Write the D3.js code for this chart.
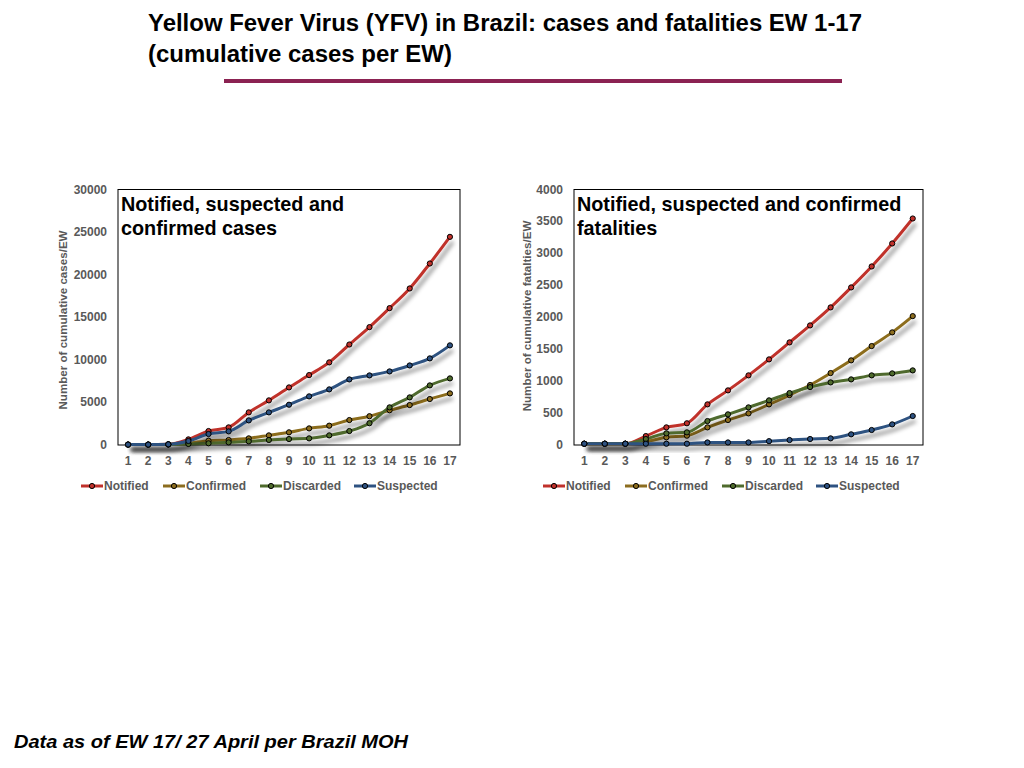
<!DOCTYPE html>
<meta charset="utf-8">
<head>
<title>Yellow Fever Virus (YFV) in Brazil</title>
<script type="text/javascript" src="https://cdn.jsdelivr.net/npm/d3@7/dist/d3.min.js"></script>
<style>
    body { margin: 0; background: #fff; }
    svg { display: block; font-family: "Liberation Sans", Arial, sans-serif; }
    .tick-lbl { font-size: 12px; font-weight: bold; fill: #595959; }
    .axis-lbl { font-size: 11.6px; font-weight: bold; fill: #595959; }
    .legend-lbl { font-size: 12px; font-weight: bold; fill: #595959; }
    .plot-title { font-size: 19.8px; font-weight: bold; fill: #000; }
</style>
</head>
<body>
<div id="chart"></div>
<script>
    // epidemiological weeks
    var weeks = d3.range(1, 18);
    var seriesNames = ["Notified", "Confirmed", "Discarded", "Suspected"];
    var seriesColors = ["#c0312b", "#8c6d1f", "#4f6b2d", "#2e5281"];

    // cumulative cases per EW
    var casesNotified  = [50, 50, 80, 660, 1640, 2070, 3830, 5240, 6760, 8210, 9700, 11800, 13840, 16070, 18380, 21310, 24440];
    var casesConfirmed = [50, 50, 60, 200, 510, 590, 780, 1130, 1490, 1950, 2270, 2930, 3380, 4080, 4690, 5400, 6060];
    var casesDiscarded = [50, 50, 60, 120, 200, 310, 430, 590, 700, 780, 1130, 1640, 2560, 4420, 5590, 7000, 7820];
    var casesSuspected = [50, 50, 80, 470, 1290, 1600, 2890, 3830, 4730, 5710, 6530, 7700, 8170, 8640, 9340, 10170, 11700];

    // cumulative fatalities per EW
    var fatalNotified  = [20, 20, 20, 140, 276, 340, 636, 855, 1090, 1340, 1606, 1872, 2154, 2467, 2795, 3155, 3546];
    var fatalConfirmed = [20, 20, 20, 52, 120, 146, 276, 391, 495, 636, 782, 939, 1126, 1325, 1549, 1763, 2018];
    var fatalDiscarded = [20, 20, 20, 94, 182, 198, 375, 480, 589, 699, 813, 907, 980, 1027, 1090, 1121, 1168];
    var fatalSuspected = [20, 20, 20, 20, 20, 20, 40, 40, 40, 60, 78, 94, 104, 167, 235, 323, 454];

    var casesTicks = d3.range(0, 30001, 5000);
    var fatalTicks = d3.range(0, 4001, 500);

    var svg = d3.select("#chart").append("svg")
        .attr("width", 1024).attr("height", 768);

    var defs = svg.append("defs");
    defs.append("filter").attr("id", "shadow")
        .attr("x", "-10%").attr("y", "-10%").attr("width", "130%").attr("height", "140%")
        .append("feDropShadow")
        .attr("dx", 3).attr("dy", 5).attr("stdDeviation", 2.2)
        .attr("flood-color", "#000").attr("flood-opacity", 0.45);

    // header
    svg.append("text").attr("x", 148).attr("y", 31)
        .attr("textLength", 714).attr("lengthAdjust", "spacingAndGlyphs")
        .style("font-family", "'Liberation Sans Narrow', 'Liberation Sans', Arial, sans-serif")
        .style("font-size", "23px").style("font-weight", "bold")
        .text("Yellow Fever Virus (YFV) in Brazil: cases and fatalities EW 1-17");
    svg.append("text").attr("x", 148).attr("y", 62)
        .attr("textLength", 304).attr("lengthAdjust", "spacingAndGlyphs")
        .style("font-family", "'Liberation Sans Narrow', 'Liberation Sans', Arial, sans-serif")
        .style("font-size", "23px").style("font-weight", "bold")
        .text("(cumulative cases per EW)");
    svg.append("rect").attr("x", 224).attr("y", 79).attr("width", 618).attr("height", 4)
        .attr("fill", "#8b2252");

    // footer
    svg.append("text").attr("x", 14).attr("y", 748)
        .attr("textLength", 394).attr("lengthAdjust", "spacingAndGlyphs")
        .style("font-size", "18px").style("font-weight", "bold").style("font-style", "italic")
        .text("Data as of EW 17/ 27 April per Brazil MOH");

    function drawPanel(opt) {
        var g = svg.append("g");
        var x = d3.scaleBand().domain(weeks).range([opt.left, opt.right]);
        var y = d3.scaleLinear().domain([0, opt.max]).range([445, 189.5]);

        // plot frame
        g.append("rect").attr("x", opt.left).attr("y", y(opt.max))
            .attr("width", opt.right - opt.left).attr("height", 445 - y(opt.max))
            .attr("fill", "#fff").attr("stroke", "#000").attr("stroke-width", 1);

        // y tick labels
        g.selectAll(".ytl").data(opt.ticks).enter().append("text")
            .attr("class", "tick-lbl")
            .attr("x", opt.left - 11).attr("y", function (d) { return y(d) + 4; })
            .attr("text-anchor", "end")
            .text(function (d) { return d; });

        // x tick labels
        g.selectAll(".xtl").data(weeks).enter().append("text")
            .attr("class", "tick-lbl")
            .attr("x", function (d) { return x(d) + x.bandwidth() / 2; })
            .attr("y", 465).attr("text-anchor", "middle")
            .text(function (d) { return d; });

        // y axis label
        g.append("text").attr("class", "axis-lbl")
            .attr("transform", "translate(" + opt.ylx + "," + opt.yly + ") rotate(-90)")
            .attr("text-anchor", "middle").text(opt.ylabel);

        // plot title
        var t = g.append("text").attr("class", "plot-title");
        opt.title.forEach(function (line, i) {
            t.append("tspan").attr("x", opt.left + 3).attr("y", 211 + i * 24).text(line);
        });

        var line = d3.line()
            .x(function (d, i) { return x(weeks[i]) + x.bandwidth() / 2; })
            .y(function (d) { return y(d); })
            .curve(d3.curveMonotoneX);

        opt.series.forEach(function (vals, k) {
            var sg = g.append("g").attr("filter", "url(#shadow)");
            sg.append("path").attr("d", line(vals))
                .attr("fill", "none").attr("stroke", seriesColors[k]).attr("stroke-width", 3);
        });
        opt.series.forEach(function (vals, k) {
            var sg = g.append("g");
            sg.selectAll("circle").data(vals).enter().append("circle")
                .attr("cx", function (d, i) { return x(weeks[i]) + x.bandwidth() / 2; })
                .attr("cy", function (d) { return y(d); })
                .attr("r", 2.6)
                .attr("fill", seriesColors[k]).attr("stroke", "#000").attr("stroke-width", 1);
        });

        // legend
        seriesNames.forEach(function (name, k) {
            var lx = opt.legendX[k];
            g.append("line").attr("x1", lx).attr("x2", lx + 22).attr("y1", 486).attr("y2", 486)
                .attr("stroke", seriesColors[k]).attr("stroke-width", 3);
            g.append("circle").attr("cx", lx + 11).attr("cy", 486).attr("r", 2.6)
                .attr("fill", seriesColors[k]).attr("stroke", "#000").attr("stroke-width", 1);
            g.append("text").attr("class", "legend-lbl")
                .attr("x", lx + 23).attr("y", 490).text(name);
        });
    }

    drawPanel({
        left: 118, right: 460, max: 30000, ticks: casesTicks, ylx: 67, yly: 320,
        ylabel: "Number of cumulative cases/EW",
        title: ["Notified, suspected and", "confirmed cases"],
        series: [casesNotified, casesConfirmed, casesDiscarded, casesSuspected],
        legendX: [81, 163, 260, 354]
    });

    drawPanel({
        left: 574, right: 923, max: 4000, ticks: fatalTicks, ylx: 531, yly: 316,
        ylabel: "Number of cumulative fatalties/EW",
        title: ["Notified, suspected and confirmed", "fatalities"],
        series: [fatalNotified, fatalConfirmed, fatalDiscarded, fatalSuspected],
        legendX: [543, 625, 722, 816]
    });
</script>
</body>
</html>
